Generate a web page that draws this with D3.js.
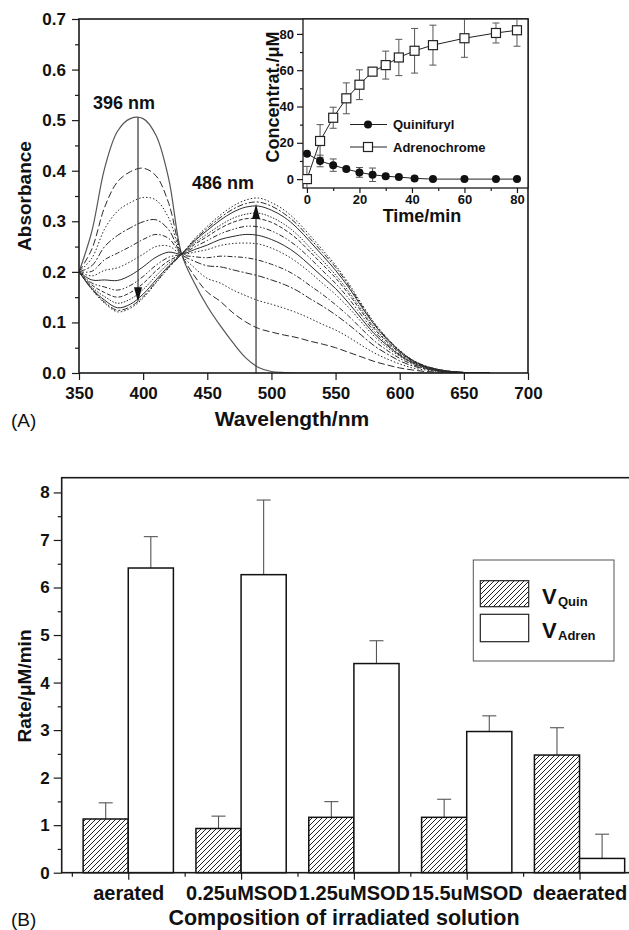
<!DOCTYPE html>
<html>
<head>
<meta charset="utf-8">
<script src="https://cdn.jsdelivr.net/npm/d3@7/dist/d3.min.js"></script>
<style>
  html, body { margin: 0; padding: 0; background: #fff; }
  svg { display: block; }
  text { font-family: "Liberation Sans", Arial, Helvetica, sans-serif; fill: #111; }
  .tick text { font-weight: bold; }
</style>
</head>
<body>
<svg id="fig" width="629" height="930"></svg>
<script>
// ---------- Panel A: absorption spectra during irradiation ----------
const wavelengths = [350, 360, 370, 380, 390, 400, 410, 420, 430, 440, 450, 460, 470, 480, 490, 500, 510,
                     520, 530, 540, 550, 560, 570, 580, 590, 600, 610, 620, 630, 640, 650, 660, 670];

const scan0  = [.200,.280,.405,.478,.503,.503,.470,.383,.235,.178,.132,.094,.060,.030,.011,.003,.001,0,0,0,0,0,0,0,0,0,0,0,0,0,0,0,0];
const scan1  = [.200,.245,.328,.378,.398,.405,.390,.335,.235,.192,.160,.142,.119,.101,.088,.081,.075,.070,.063,.057,.050,.041,.032,.023,.016,.010,.006,.003,.002,.001,0,0,0];
const scan2  = [.200,.227,.285,.320,.337,.347,.342,.306,.235,.208,.187,.178,.164,.153,.143,.136,.128,.119,.108,.096,.085,.071,.055,.040,.028,.018,.010,.006,.003,.001,0,0,0];
const scan3  = [.200,.212,.250,.272,.287,.299,.303,.283,.235,.221,.212,.210,.204,.198,.192,.184,.175,.163,.147,.132,.115,.096,.075,.054,.038,.024,.014,.008,.004,.002,.001,0,0];
const scan4  = [.200,.201,.224,.237,.250,.264,.274,.266,.235,.230,.228,.231,.230,.228,.223,.215,.205,.191,.173,.155,.135,.113,.088,.064,.045,.029,.017,.009,.004,.002,.001,0,0];
const scan5  = [.200,.192,.203,.208,.220,.235,.250,.251,.235,.239,.244,.252,.256,.257,.255,.247,.235,.219,.199,.177,.155,.130,.101,.073,.051,.033,.019,.010,.005,.002,.001,0,0];
const scan6  = [.200,.184,.184,.183,.193,.210,.229,.239,.235,.244,.253,.264,.270,.274,.272,.264,.252,.235,.213,.190,.167,.139,.108,.078,.055,.035,.020,.011,.005,.002,.001,0,0];
const scan7  = [.200,.178,.170,.164,.173,.191,.213,.229,.235,.249,.262,.275,.284,.290,.289,.281,.268,.250,.227,.202,.177,.148,.115,.083,.058,.037,.022,.012,.006,.002,.001,0,0];
const scan8  = [.200,.174,.159,.150,.159,.177,.202,.222,.235,.254,.270,.286,.298,.305,.305,.298,.284,.265,.240,.214,.188,.157,.122,.088,.062,.040,.023,.012,.006,.003,.001,0,0];
const scan9  = [.200,.170,.151,.138,.146,.165,.192,.217,.235,.257,.275,.292,.306,.314,.316,.308,.294,.274,.248,.222,.194,.162,.126,.091,.064,.041,.024,.013,.006,.003,.001,0,0];
const scan10 = [.200,.167,.144,.129,.136,.156,.184,.212,.235,.261,.282,.302,.318,.328,.330,.322,.308,.287,.260,.232,.203,.170,.132,.096,.067,.043,.025,.013,.007,.003,.001,0,0];
const scan11 = [.200,.166,.140,.124,.131,.151,.180,.209,.235,.263,.286,.307,.324,.335,.338,.330,.315,.294,.266,.238,.209,.174,.135,.098,.069,.044,.025,.014,.007,.003,.001,0,0];
const scan12 = [.200,.165,.138,.121,.128,.148,.178,.208,.235,.265,.290,.312,.330,.342,.346,.337,.322,.300,.272,.243,.213,.178,.138,.100,.070,.045,.026,.014,.007,.003,.001,0,0];
const scans = [scan0, scan1, scan2, scan3, scan4, scan5, scan6, scan7, scan8, scan9, scan10, scan11, scan12];

const absTicks = [0, 0.1, 0.2, 0.3, 0.4, 0.5, 0.6, 0.7];
const wlTicks = [350, 400, 450, 500, 550, 600, 650, 700];

// band maxima marked with arrows
const peakQuin = 396;
const peakAdren = 486;

// ---------- Inset: kinetics ----------
const timeMin = [0, 5, 10, 15, 20, 25, 30, 35, 41, 48, 60, 72, 80];
const quinifuryl = [14, 10, 7.7, 5.5, 3.7, 2.4, 1.6, 1.1, 0.4, 0, 0, 0, 0];
const quinifurylErr = [0, 3.2, 3.4, 1, 2.7, 3.7, 1, 0.5, 0.5, 0.5, 0.3, 0.3, 0.3];
const adrenochrome = [0, 21, 33.8, 44.5, 52, 59.2, 62.8, 67, 70.7, 73.8, 77.6, 80.5, 82];
const adrenochromeErr = [7, 9, 5.8, 8.5, 8.2, 2.2, 7.7, 10, 12.3, 11, 10.5, 5.5, 8.8];
const concTicks = [0, 20, 40, 60, 80];
const timeTicks = [0, 20, 40, 60, 80];

// ---------- Panel B: rates ----------
const categories = ["aerated", "0.25uMSOD", "1.25uMSOD", "15.5uMSOD", "deaerated"];
const vQuin = [1.13, 0.93, 1.165, 1.165, 2.475];
const vQuinErr = [0.34, 0.26, 0.33, 0.38, 0.575];
const vAdren = [6.41, 6.27, 4.40, 2.97, 0.30];
const vAdrenErr = [0.66, 1.57, 0.48, 0.33, 0.51];
const rateTicks = [0, 1, 2, 3, 4, 5, 6, 7, 8];

const svg = d3.select("#fig");
const INK = "#1a1a1a";

const defs = svg.append("defs");
defs.append("pattern")
  .attr("id", "hatch").attr("patternUnits", "userSpaceOnUse")
  .attr("width", 5).attr("height", 5)
  .append("path")
  .attr("d", "M-1,1 l2,-2 M0,5 l5,-5 M4,6 l2,-2")
  .attr("stroke", "#222").attr("stroke-width", 1);

function styleAxis(g, size) {
  g.select(".domain").remove();
  g.selectAll(".tick line").attr("stroke", INK).attr("stroke-width", 1.2);
  g.selectAll(".tick text")
    .style("font-size", size + "px").style("font-weight", "bold").attr("fill", "#111");
}

// ================= Panel A =================
const xA = d3.scaleLinear().domain([350, 700]).range([79, 528]);
const yA = d3.scaleLinear().domain([0, 0.7]).range([373, 19]);

defs.append("clipPath").attr("id", "clipA")
  .append("rect").attr("x", 79).attr("y", 19).attr("width", 449).attr("height", 354);

const dashes = ["", "7,3", "1.5,2", "7,2,2,2", "5,2,1.5,2", "1.5,2", "", "5,2,1.5,2,1.5,2",
                "4,2", "1.5,1.5", "", "6,2,2,2", "1.5,2"];

const spectrumLine = d3.line()
  .x((d, i) => xA(wavelengths[i]))
  .y(d => yA(d))
  .curve(d3.curveCatmullRom.alpha(0.5));

svg.append("g").attr("clip-path", "url(#clipA)")
  .selectAll("path").data(scans).join("path")
  .attr("d", spectrumLine)
  .attr("fill", "none")
  .attr("stroke", (d, i) => i === 0 ? "#555" : "#2a2a2a")
  .attr("stroke-width", (d, i) => i === 0 ? 1.2 : 1)
  .attr("stroke-dasharray", (d, i) => dashes[i]);

// arrows showing the direction of change
function arrow(x, y0, y1) {
  const dir = y1 > y0 ? 1 : -1;
  svg.append("line")
    .attr("x1", x).attr("x2", x).attr("y1", y0).attr("y2", y1 - dir * 12)
    .attr("stroke", "#333").attr("stroke-width", 1.2);
  svg.append("path")
    .attr("d", `M${x},${y1} L${x - 4},${y1 - dir * 15} L${x + 4},${y1 - dir * 15} Z`)
    .attr("fill", "#111");
}
arrow(xA(peakQuin), yA(0.505), yA(0.14));
arrow(xA(peakAdren + 2), yA(0), yA(0.334));

svg.append("text").attr("x", xA(peakQuin) - 45).attr("y", 109)
  .attr("font-size", 18).attr("font-weight", "bold").text(peakQuin + " nm");
svg.append("text").attr("x", 192).attr("y", 189)
  .attr("font-size", 18).attr("font-weight", "bold").text(peakAdren + " nm");

// axes
svg.append("g").attr("transform", "translate(79,0)")
  .call(d3.axisLeft(yA).tickValues(absTicks).tickFormat(d3.format(".1f")).tickSize(7).tickPadding(6))
  .call(g => styleAxis(g, 17));
svg.append("g").attr("transform", "translate(79,0)")
  .call(d3.axisLeft(yA).tickValues([0.05, 0.15, 0.25, 0.35, 0.45, 0.55, 0.65]).tickSize(4).tickFormat(""))
  .call(g => styleAxis(g, 17));
svg.append("g").attr("transform", "translate(0,373)")
  .call(d3.axisBottom(xA).tickValues(wlTicks).tickFormat(d3.format("d")).tickSize(7).tickPadding(7))
  .call(g => styleAxis(g, 17));

svg.append("rect").attr("x", 79).attr("y", 19).attr("width", 449).attr("height", 354)
  .attr("fill", "none").attr("stroke", INK).attr("stroke-width", 1.6);

svg.append("text").attr("transform", "translate(31,196) rotate(-90)")
  .attr("text-anchor", "middle").attr("font-size", 19).attr("font-weight", "bold").text("Absorbance");
svg.append("text").attr("x", 292).attr("y", 426)
  .attr("text-anchor", "middle").attr("font-size", 21).attr("font-weight", "bold").text("Wavelength/nm");
svg.append("text").attr("x", 11).attr("y", 427)
  .attr("font-size", 19).text("(A)");

// ================= Inset =================
const xI = d3.scaleLinear().domain([-1.5, 84.2]).range([303, 528]);
const yI = d3.scaleLinear().domain([-4.9, 88.2]).range([188, 19]);

svg.append("rect").attr("x", 303).attr("y", 19).attr("width", 225).attr("height", 169)
  .attr("fill", "#fff").attr("stroke", INK).attr("stroke-width", 1.3);

defs.append("clipPath").attr("id", "clipI")
  .append("rect").attr("x", 303).attr("y", 19).attr("width", 225).attr("height", 169);

svg.append("g").attr("transform", "translate(303,0)")
  .call(d3.axisLeft(yI).tickValues(concTicks).tickSize(6).tickPadding(3))
  .call(g => styleAxis(g, 13));
svg.append("g").attr("transform", "translate(303,0)")
  .call(d3.axisLeft(yI).tickValues([10, 30, 50, 70]).tickSize(3).tickFormat(""))
  .call(g => styleAxis(g, 13));
svg.append("g").attr("transform", "translate(0,188)")
  .call(d3.axisBottom(xI).tickValues(timeTicks).tickSize(5).tickPadding(2))
  .call(g => styleAxis(g, 13));
svg.append("g").attr("transform", "translate(0,188)")
  .call(d3.axisBottom(xI).tickValues([10, 30, 50, 70]).tickSize(3).tickFormat(""))
  .call(g => styleAxis(g, 13));

const inset = svg.append("g").attr("clip-path", "url(#clipI)");
const kinLine = d3.line().x((d, i) => xI(timeMin[i])).y(d => yI(d));

function errBars(vals, errs) {
  const g = inset.append("g").attr("stroke", "#555").attr("stroke-width", 1);
  vals.forEach((v, i) => {
    const e = errs[i];
    if (!e) return;
    const x = xI(timeMin[i]);
    g.append("line").attr("x1", x).attr("x2", x).attr("y1", yI(v - e)).attr("y2", yI(v + e));
    g.append("line").attr("x1", x - 3.5).attr("x2", x + 3.5).attr("y1", yI(v + e)).attr("y2", yI(v + e));
    g.append("line").attr("x1", x - 3.5).attr("x2", x + 3.5).attr("y1", yI(v - e)).attr("y2", yI(v - e));
  });
}
errBars(adrenochrome, adrenochromeErr);
errBars(quinifuryl, quinifurylErr);

inset.append("path").attr("d", kinLine(quinifuryl))
  .attr("fill", "none").attr("stroke", "#222").attr("stroke-width", 1);
inset.append("path").attr("d", kinLine(adrenochrome))
  .attr("fill", "none").attr("stroke", "#222").attr("stroke-width", 1);

inset.selectAll("circle.q").data(quinifuryl).join("circle")
  .attr("class", "q")
  .attr("cx", (d, i) => xI(timeMin[i])).attr("cy", d => yI(d)).attr("r", 4)
  .attr("fill", "#111");
inset.selectAll("rect.a").data(adrenochrome).join("rect")
  .attr("class", "a")
  .attr("x", (d, i) => xI(timeMin[i]) - 4.5).attr("y", d => yI(d) - 4.5)
  .attr("width", 9).attr("height", 9)
  .attr("fill", "#fff").attr("stroke", "#222").attr("stroke-width", 1.2);

// inset legend
const lg = svg.append("g");
[[124.5, "Quinifuryl", "circle"], [147, "Adrenochrome", "square"]].forEach(([y, label, shape]) => {
  lg.append("line").attr("x1", 350).attr("x2", 387).attr("y1", y).attr("y2", y)
    .attr("stroke", "#222").attr("stroke-width", 1);
  if (shape === "circle") {
    lg.append("circle").attr("cx", 368).attr("cy", y).attr("r", 4).attr("fill", "#111");
  } else {
    lg.append("rect").attr("x", 363.5).attr("y", y - 4.5).attr("width", 9).attr("height", 9)
      .attr("fill", "#fff").attr("stroke", "#222").attr("stroke-width", 1.2);
  }
  lg.append("text").attr("x", 393).attr("y", y + 4.5)
    .attr("font-size", 13).attr("font-weight", "bold").text(label);
});

svg.append("text").attr("transform", "translate(279,97) rotate(-90)")
  .attr("text-anchor", "middle").attr("font-size", 18).attr("font-weight", "bold").text("Concentrat./\u03bcM");
svg.append("text").attr("x", 422).attr("y", 222)
  .attr("text-anchor", "middle").attr("font-size", 18).attr("font-weight", "bold").text("Time/min");

// ================= Panel B =================
const xB = d3.scaleLinear().domain([-0.59, 4.465]).range([61.7, 632]);
const yB = d3.scaleLinear().domain([0, 8.31]).range([872.7, 477.7]);
const barW = 0.4;

svg.append("g").attr("transform", "translate(61.7,0)")
  .call(d3.axisLeft(yB).tickValues(rateTicks).tickSize(8).tickPadding(4))
  .call(g => styleAxis(g, 17));
svg.append("g").attr("transform", "translate(61.7,0)")
  .call(d3.axisLeft(yB).tickValues([0.5, 1.5, 2.5, 3.5, 4.5, 5.5, 6.5, 7.5]).tickSize(4).tickFormat(""))
  .call(g => styleAxis(g, 17));
svg.append("g").attr("transform", "translate(0,872.7)")
  .call(d3.axisBottom(xB).tickValues([0, 1, 2, 3, 4]).tickFormat(i => categories[i]).tickSize(7).tickPadding(6))
  .call(g => styleAxis(g, 20));
svg.append("g").attr("transform", "translate(0,872.7)")
  .call(d3.axisBottom(xB).tickValues([-0.5, 0.5, 1.5, 2.5, 3.5]).tickSize(4).tickFormat(""))
  .call(g => styleAxis(g, 20));

// error bars (drawn first so the bar outlines sit on top)
function barErr(vals, errs, offset) {
  const g = svg.append("g").attr("stroke", "#555").attr("stroke-width", 1.1);
  vals.forEach((v, i) => {
    const x = xB(i + offset);
    g.append("line").attr("x1", x).attr("x2", x).attr("y1", yB(v)).attr("y2", yB(v + errs[i]));
    g.append("line").attr("x1", x - 7).attr("x2", x + 7).attr("y1", yB(v + errs[i])).attr("y2", yB(v + errs[i]));
  });
}
barErr(vQuin, vQuinErr, -barW / 2);
barErr(vAdren, vAdrenErr, barW / 2);

svg.append("g").selectAll("rect").data(vQuin).join("rect")
  .attr("x", (d, i) => xB(i - barW)).attr("width", (d, i) => xB(i) - xB(i - barW))
  .attr("y", d => yB(d)).attr("height", d => yB(0) - yB(d))
  .attr("fill", "url(#hatch)").attr("stroke", "#111").attr("stroke-width", 1.5);
svg.append("g").selectAll("rect").data(vAdren).join("rect")
  .attr("x", (d, i) => xB(i)).attr("width", (d, i) => xB(i + barW) - xB(i))
  .attr("y", d => yB(d)).attr("height", d => yB(0) - yB(d))
  .attr("fill", "#fff").attr("stroke", "#111").attr("stroke-width", 1.5);

svg.append("rect").attr("x", 61.7).attr("y", 477.7).attr("width", 632 - 61.7).attr("height", 872.7 - 477.7)
  .attr("fill", "none").attr("stroke", INK).attr("stroke-width", 1.6);

// legend
svg.append("rect").attr("x", 473.3).attr("y", 560).attr("width", 140.7).attr("height", 101)
  .attr("fill", "#fff").attr("stroke", "#555").attr("stroke-width", 1);
svg.append("rect").attr("x", 480.3).attr("y", 580.7).attr("width", 48.4).attr("height", 26)
  .attr("fill", "url(#hatch)").attr("stroke", "#222").attr("stroke-width", 1.2);
svg.append("rect").attr("x", 480.3).attr("y", 614.3).attr("width", 48.4).attr("height", 27.4)
  .attr("fill", "#fff").attr("stroke", "#222").attr("stroke-width", 1.2);
[[604, 606, "Quin"], [637.5, 640, "Adren"]].forEach(([yb, ys, sub]) => {
  svg.append("text").attr("x", 542).attr("y", yb)
    .attr("font-size", 22).attr("font-weight", "bold").text("V");
  svg.append("text").attr("x", 558).attr("y", ys)
    .attr("font-size", 13).attr("font-weight", "bold").text(sub);
});

svg.append("text").attr("transform", "translate(31,686) rotate(-90)")
  .attr("text-anchor", "middle").attr("font-size", 19).attr("font-weight", "bold").text("Rate/\u03bcM/min");
svg.append("text").attr("x", 344).attr("y", 925)
  .attr("text-anchor", "middle").attr("font-size", 21.5).attr("font-weight", "bold").text("Composition of irradiated solution");
svg.append("text").attr("x", 11).attr("y", 926)
  .attr("font-size", 19).text("(B)");
</script>
</body>
</html>
